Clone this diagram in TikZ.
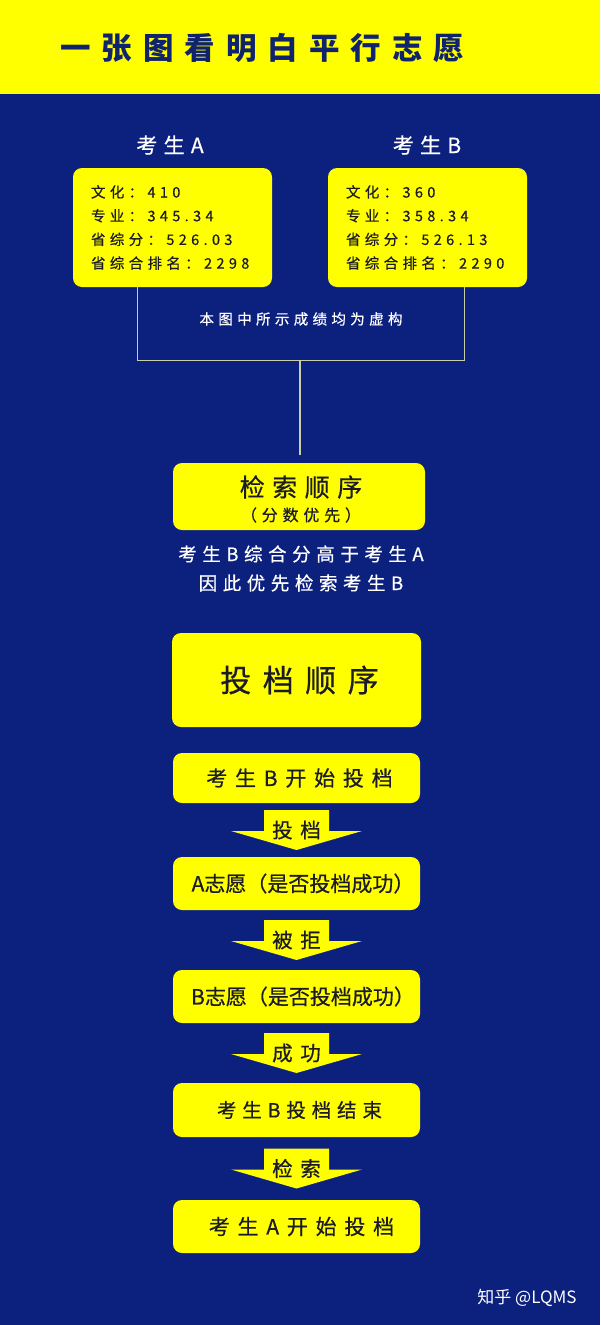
\documentclass[tikz,border=0pt]{standalone}
\usepackage{fontspec}
\setmainfont{Noto Sans CJK SC}[FakeBold=0.6]
\newfontfamily\cjksp{Noto Sans CJK SC}[LetterSpace=30,FakeBold=0.6]
\newfontfamily\cjkwide{Noto Sans CJK SC}[LetterSpace=37,FakeBold=0.6]
\newfontfamily\cjkttl{Noto Sans CJK SC}[LetterSpace=36]
\newfontfamily\cjkplain{Noto Sans CJK SC}
\usetikzlibrary{calc}
\definecolor{navy}{RGB}{12,32,125}
\definecolor{ylw}{RGB}{255,255,0}
\definecolor{ink}{RGB}{28,28,40}
\definecolor{ttl}{RGB}{16,36,110}
\definecolor{wire}{RGB}{200,205,170}
\newcommand\fs[1]{\fontsize{#1}{#1}\selectfont}
\newcommand\flowarr[4]{%
  \coordinate (#4m) at ($(#1.south)!0.5!(#2.north)$);
  \fill[ylw] ($(#4m)+(-32.5,-20)$) -- ++(65,0) -- ++(0,21) -- ++(33,0)
     -- ($(#4m)+(0,20)$) -- ($(#4m)+(-65.5,1)$) -- ++(33,0) -- cycle;
  \node[atext] (#4) at (#4m) {#3};}
\begin{document}
\begin{tikzpicture}[x=1pt,y=-1pt,
  ybox/.style={fill=ylw, rounded corners=9pt, text=ink, inner sep=0pt, align=center},
  flowbox/.style={ybox, minimum width=247pt, minimum height=52pt},
  wtext/.style={text=white, inner sep=0pt, align=center},
  atext/.style={text=ink, inner sep=0pt, font=\cjkwide\fs{20.5}},
  conn/.style={draw=wire, line width=1.1pt}]
\useasboundingbox (0,0) rectangle (600,1325);
\fill[navy] (0,0) rectangle (600,1325);
\fill[ylw] (0,0) rectangle (600,94);
\node[text=ttl, inner sep=0pt, anchor=west, font=\cjkttl\bfseries\fs{30.5}] (title) at (60,48) {一张图看明白平行志愿};

% students
\node[wtext, font=\cjksp\fs{21}] (labA) at (170,145) {考生A};
\node[wtext, font=\cjksp\fs{21}] (labB) at (427,145) {考生B};
\node[ybox, minimum width=199pt, minimum height=119pt, text width=163pt, align=left,
      font=\cjksp\fontsize{14.5}{23.7}\selectfont] (boxA) at (172.5,227.5)
      {文化：410\\专业：345.34\\省综分：526.03\\省综合排名：2298};
\node[ybox, minimum width=199pt, minimum height=119pt, text width=163pt, align=left,
      font=\cjksp\fontsize{14.5}{23.7}\selectfont] (boxB) at (427.5,227.5)
      {文化：360\\专业：358.34\\省综分：526.13\\省综合排名：2290};
\node[wtext, font=\cjksp\fs{14.5}] (note) at (301,319) {本图中所示成绩均为虚构};

% search order
\node[ybox, minimum width=252pt, minimum height=67pt] (search) at (299,496.5) {};
\node[text=ink, inner sep=0pt, font=\cjksp\fs{25}] (searchT) at ($(search.center)+(2,-9.5)$) {检索顺序};
\node[text=ink, inner sep=0pt, font=\cjksp\fs{16}] (searchS) at ($(search.center)+(2,18.5)$) {（分数优先）};
\coordinate (junc) at (300,360);
\draw[conn] ([xshift=65pt]boxA.south west) -- ++(0,73) -| ([xshift=-63pt]boxB.south east);
\draw[conn, shorten >=8pt] (junc) -- (search.north -| junc);
\node[wtext, font=\cjksp\fs{18.5}] (why1) at (301,554) {考生B综合分高于考生A};
\node[wtext, font=\cjksp\fs{18.5}] (why2) at (301,583) {因此优先检索考生B};

% filing order
\node[ybox, minimum width=249pt, minimum height=94pt, font=\cjkwide\fs{31}] (file) at (296.5,680) {\hspace*{6pt}投档顺序};

\node[flowbox, minimum height=50pt, font=\cjkwide\fs{21}] (b1) at (296.5,778) {\hspace*{6pt}考生B开始投档};
\node[flowbox, minimum height=53pt, font=\fs{21}] (b2) at (296.5,883.5) {\hspace*{13pt}A志愿（是否投档成功）};
\node[flowbox, minimum height=53pt, font=\fs{21}] (b3) at (296.5,996.5) {\hspace*{13pt}B志愿（是否投档成功）};
\node[flowbox, minimum height=54pt, font=\cjksp\fs{19.5}] (b4) at (296.5,1110) {\hspace*{6pt}考生B投档结束};
\node[flowbox, minimum height=53pt, font=\cjkwide\fs{21}] (b5) at (296.5,1226.5) {\hspace*{10pt}考生A开始投档};

\flowarr{b1}{b2}{投档}{a1}
\flowarr{b2}{b3}{被拒}{a2}
\flowarr{b3}{b4}{成功}{a3}
\flowarr{b4}{b5}{检索}{a4}

\node[wtext, font=\cjkplain\fs{17}] (mark) at (527,1298) {知乎 @LQMS};
\end{tikzpicture}
\end{document}
